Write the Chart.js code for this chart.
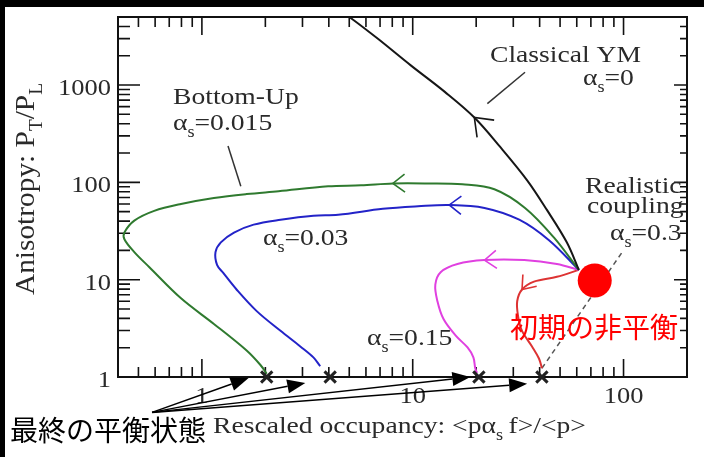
<!DOCTYPE html>
<html>
<head>
<meta charset="utf-8">
<script src="https://cdn.jsdelivr.net/npm/chart.js@4.4.1/dist/chart.umd.min.js"></script>
<style>
  html, body { margin: 0; padding: 0; background: #000; }
  canvas { display: block; }
</style>
</head>
<body>
<canvas id="c" width="704" height="457"></canvas>
<script>
// Trajectories in the (rescaled occupancy, anisotropy) plane.
// Every run starts from the same non-equilibrium initial state.
const classicalYM = [
  {x: 61.4, y: 12.6}, {x: 53.8, y: 24.2}, {x: 43.3, y: 52.1}, {x: 34.9, y: 105},
  {x: 26.0, y: 231}, {x: 19.6, y: 464}, {x: 14.2, y: 850}, {x: 9.79, y: 1592},
  {x: 6.84, y: 2985}, {x: 5.10, y: 4860}, {x: 4.33, y: 6140}
];
const bottomUp015 = [
  {x: 61.4, y: 12.6}, {x: 46.7, y: 27.2}, {x: 34.1, y: 54.6}, {x: 24.4, y: 85},
  {x: 17.2, y: 95.5}, {x: 11.8, y: 97.5}, {x: 8.05, y: 97.5}, {x: 5.69, y: 93.3},
  {x: 3.97, y: 91.1}, {x: 2.31, y: 81.1}, {x: 1.63, y: 75.7}, {x: 1.14, y: 68.9},
  {x: 0.796, y: 59.9}, {x: 0.594, y: 50.9}, {x: 0.478, y: 40.4}, {x: 0.429, y: 30.5},
  {x: 0.429, y: 26.0}, {x: 0.478, y: 19.2}, {x: 0.562, y: 13.5}, {x: 0.796, y: 6.43},
  {x: 1.14, y: 3.51}, {x: 1.63, y: 1.87}, {x: 1.90, y: 1.32}, {x: 2.03, y: 1.08}
];
const coupling003 = [
  {x: 61.4, y: 12.6}, {x: 44.3, y: 25.4}, {x: 32.0, y: 41.3}, {x: 21.9, y: 54.6},
  {x: 14.9, y: 58.6}, {x: 10.6, y: 56.8}, {x: 7.22, y: 53.4}, {x: 4.43, y: 46.4},
  {x: 3.38, y: 45.4}, {x: 2.36, y: 41.3}, {x: 1.76, y: 36.8}, {x: 1.42, y: 30.5},
  {x: 1.23, y: 24.2}, {x: 1.16, y: 19.2}, {x: 1.18, y: 14.2}, {x: 1.26, y: 11.8},
  {x: 1.46, y: 7.93}, {x: 1.82, y: 4.75}, {x: 2.36, y: 2.98}, {x: 2.93, y: 2.06},
  {x: 3.38, y: 1.59}, {x: 3.64, y: 1.29}
];
const coupling015 = [
  {x: 61.4, y: 12.6}, {x: 48.3, y: 14.5}, {x: 33.8, y: 15.9}, {x: 21.9, y: 15.9},
  {x: 16.3, y: 14.5}, {x: 13.6, y: 12.0}, {x: 12.8, y: 8.9}, {x: 13.1, y: 6.0},
  {x: 14.0, y: 3.94}, {x: 16.0, y: 2.66}, {x: 18.2, y: 2.01}, {x: 19.4, y: 1.59},
  {x: 19.8, y: 1.23}, {x: 20.2, y: 1.1}
];
const coupling03 = [
  {x: 61.4, y: 12.6}, {x: 48.3, y: 10.7}, {x: 37.6, y: 9.55}, {x: 33.0, y: 7.93},
  {x: 31.3, y: 6.0}, {x: 31.6, y: 4.23}, {x: 33.0, y: 2.98}, {x: 36.8, y: 2.06},
  {x: 39.7, y: 1.55}, {x: 41.0, y: 1.23}
];
const initialState = [{x: 73, y: 9.8}];
const finalStates = [{x: 2.03, y: 1}, {x: 4.06, y: 1}, {x: 20.6, y: 1}, {x: 41, y: 1}];

// Leader lines from the curve labels
const bottomUpPointer = [{x: 1.33, y: 236}, {x: 1.53, y: 91}];
const classicalPointer = [{x: 34.1, y: 1353}, {x: 22.6, y: 643}];
const realisticPointer = [{x: 41, y: 1.23}, {x: 100, y: 20.1}];

// Arrows from the 最終の平衡状態 caption towards the end points
const finalCaptionOrigin = {x: 0.58, y: 0.433};
const finalCaptionTips = [{x: 1.666, y: 0.977}, {x: 3.094, y: 0.87}, {x: 18.77, y: 1.0}, {x: 34.9, y: 0.85}];

const xTickLabels = [1, 10, 100];
const yTickLabels = [1, 10, 100, 1000];

const SERIF = '"Liberation Serif", "Times New Roman", serif';
const CJK = '"Noto Sans CJK JP", sans-serif';

function curve(data, color, arrowAt) {
  return {
    data, borderColor: color, backgroundColor: color, showLine: true,
    pointRadius: 0, borderWidth: 2, tension: 0.35, arrowAt, order: 3
  };
}
function pointer(data, dash) {
  return {
    data, borderColor: dash ? '#555' : '#333', showLine: true, pointRadius: 0,
    borderWidth: 1.5, borderDash: dash ? [5, 4] : [], tension: 0, order: 5
  };
}

// Text with subscripts and a horizontal stretch; parts = [[text, isSub], ...]
function richWidth(ctx, parts, fs) {
  let w = 0;
  for (const [t, sub] of parts) {
    ctx.font = (sub ? fs * 0.66 : fs) + 'px ' + SERIF;
    w += ctx.measureText(t).width;
  }
  return w;
}
function drawRich(ctx, parts, x, y, fs, opt) {
  opt = opt || {};
  const sx = opt.sx || 1.15, sy = opt.sy || 1;
  ctx.save();
  ctx.translate(x, y);
  if (opt.rot) ctx.rotate(opt.rot);
  ctx.scale(sx, sy);
  ctx.fillStyle = opt.color || '#2a2a2a';
  ctx.textBaseline = 'alphabetic';
  ctx.textAlign = 'left';
  const w = richWidth(ctx, parts, fs);
  let cx = opt.align === 'center' ? -w / 2 : opt.align === 'right' ? -w : 0;
  for (const [t, sub] of parts) {
    const f = sub ? fs * 0.66 : fs;
    ctx.font = f + 'px ' + SERIF;
    ctx.fillText(t, cx, sub ? fs * 0.3 : 0);
    cx += ctx.measureText(t).width;
  }
  ctx.restore();
}

function logValues(min, max) {
  const out = [];
  for (let e = Math.floor(Math.log10(min)); e <= Math.ceil(Math.log10(max)); e++) {
    for (let m = 1; m <= 9; m++) {
      const v = m * Math.pow(10, e);
      if (v > min * 1.001 && v < max * 0.999) out.push({v, major: m === 1});
    }
  }
  return out;
}

function arrowHead(ctx, tip, from, len, hw) {
  const a = Math.atan2(tip.y - from.y, tip.x - from.x);
  const bx = tip.x - len * Math.cos(a), by = tip.y - len * Math.sin(a);
  ctx.beginPath();
  ctx.moveTo(from.x, from.y);
  ctx.lineTo(bx, by);
  ctx.stroke();
  ctx.beginPath();
  ctx.moveTo(tip.x, tip.y);
  ctx.lineTo(bx + hw * Math.sin(a), by - hw * Math.cos(a));
  ctx.lineTo(bx - hw * Math.sin(a), by + hw * Math.cos(a));
  ctx.closePath();
  ctx.fill();
}

const figurePlugin = {
  id: 'figure',
  beforeDraw(chart) {
    const ctx = chart.ctx;
    ctx.save();
    ctx.fillStyle = '#fff';
    ctx.fillRect(0, 0, chart.width, chart.height);
    ctx.fillStyle = '#000';
    ctx.fillRect(0, 0, chart.width, 7);
    ctx.fillRect(0, 0, 5, chart.height);
    ctx.restore();
  },
  beforeDatasetsDraw(chart) {
    const {ctx, chartArea: a, scales: {x, y}} = chart;
    ctx.save();
    ctx.strokeStyle = '#111';
    ctx.lineWidth = 1.6;
    ctx.beginPath();
    for (const t of logValues(x.min, x.max)) {
      const px = x.getPixelForValue(t.v);
      const L = t.major ? 18 : 10;
      ctx.moveTo(px, a.bottom); ctx.lineTo(px, a.bottom - L);
      ctx.moveTo(px, a.top); ctx.lineTo(px, a.top + L);
    }
    for (const t of logValues(y.min, y.max)) {
      const py = y.getPixelForValue(t.v);
      ctx.moveTo(a.left, py); ctx.lineTo(a.left + (t.major ? 22 : 12), py);
      ctx.moveTo(a.right, py); ctx.lineTo(a.right - (t.major ? 13 : 7), py);
    }
    ctx.stroke();
    ctx.lineWidth = 2;
    ctx.strokeRect(a.left, a.top, a.right - a.left, a.bottom - a.top);
    ctx.restore();
  },
  afterDatasetsDraw(chart) {
    const ctx = chart.ctx;
    // direction arrows sitting on the trajectories
    chart.data.datasets.forEach((ds, i) => {
      if (ds.arrowAt === undefined) return;
      const pts = chart.getDatasetMeta(i).data;
      const p = pts[ds.arrowAt], prev = pts[ds.arrowAt - 1], next = pts[ds.arrowAt + 1];
      const a = Math.atan2(next.y - prev.y, next.x - prev.x) + Math.PI;
      const L = ds.arrowLen || 15, h = 0.65;
      ctx.save();
      ctx.strokeStyle = ds.borderColor;
      ctx.lineWidth = 1.6;
      ctx.beginPath();
      ctx.moveTo(p.x + L * Math.cos(a + h), p.y + L * Math.sin(a + h));
      ctx.lineTo(p.x, p.y);
      ctx.lineTo(p.x + L * Math.cos(a - h), p.y + L * Math.sin(a - h));
      ctx.stroke();
      ctx.restore();
    });
  },
  afterDraw(chart) {
    const {ctx, chartArea: a, scales: {x, y}} = chart;
    const fs = 24;
    // tick labels
    for (const v of xTickLabels) {
      drawRich(ctx, [[String(v)]], x.getPixelForValue(v), a.bottom + 26, 23, {align: 'center'});
    }
    for (const v of yTickLabels) {
      drawRich(ctx, [[String(v)]], a.left - 7, y.getPixelForValue(v) + 10, 23, {align: 'right'});
    }
    // axis titles
    drawRich(ctx, [['Rescaled occupancy: <p\u03b1'], ['s', true], ['\u2009f>/<p>']], 213, 433, fs);
    ctx.font = fs + 'px ' + SERIF;
    const yParts = [['Anisotropy: P'], ['T', true], ['/P'], ['L', true]];
    const yw = richWidth(ctx, yParts, fs);
    drawRich(ctx, yParts, 34, 189, fs, {rot: -Math.PI / 2, align: 'center', sx: 212 / yw, sy: 1.15});
    // curve labels
    const sub = (v) => [['\u03b1'], ['s', true], ['=' + v]];
    drawRich(ctx, [['Bottom-Up']], 173, 104, fs);
    drawRich(ctx, sub('0.015'), 173, 130, fs);
    drawRich(ctx, [['Classical YM']], 490, 62, fs);
    drawRich(ctx, sub('0'), 583, 85, fs);
    drawRich(ctx, [['Realistic']], 585, 193, fs);
    drawRich(ctx, [['coupling']], 587, 213, fs);
    drawRich(ctx, sub('0.3'), 610, 240, fs);
    drawRich(ctx, sub('0.03'), 263, 245, fs);
    drawRich(ctx, sub('0.15'), 367, 345, fs);
    // Japanese captions
    ctx.save();
    ctx.font = '28px ' + CJK;
    ctx.textBaseline = 'middle';
    ctx.textAlign = 'left';
    ctx.fillStyle = '#ff0000';
    ctx.fillText('初期の非平衡', 510, 327);
    ctx.fillStyle = '#000';
    ctx.fillText('最終の平衡状態', 10, 430);
    // caption arrows
    ctx.strokeStyle = '#000';
    ctx.lineWidth = 1.5;
    const o = {x: x.getPixelForValue(finalCaptionOrigin.x), y: y.getPixelForValue(finalCaptionOrigin.y)};
    for (const t of finalCaptionTips) {
      arrowHead(ctx, {x: x.getPixelForValue(t.x), y: y.getPixelForValue(t.y)}, o, 18, 7);
    }
    ctx.restore();
  }
};

const black = curve(classicalYM, '#161616', 5); black.arrowLen = 20;
new Chart(document.getElementById('c'), {
  type: 'scatter',
  data: {
    datasets: [
      {data: initialState, pointRadius: 17, pointHoverRadius: 17, backgroundColor: '#ff0000',
       borderColor: '#ff0000', borderWidth: 0, order: 0, clip: false},
      {data: finalStates, pointStyle: 'crossRot', pointRadius: 8, borderColor: '#222',
       borderWidth: 3, order: 1, clip: false},
      black,
      curve(bottomUp015, '#2f7a2f', 6),
      curve(coupling003, '#2323c8', 4),
      curve(coupling015, '#e040e0', 3),
      curve(coupling03, '#dd3333', 3),
      pointer(bottomUpPointer, false),
      pointer(classicalPointer, false),
      pointer(realisticPointer, true)
    ]
  },
  options: {
    responsive: false,
    animation: false,
    events: [],
    layout: {padding: {left: 118, right: 12, top: 12, bottom: 80}},
    plugins: {legend: {display: false}, tooltip: {enabled: false}},
    scales: {
      x: {type: 'logarithmic', min: 0.4, max: 200, display: false},
      y: {type: 'logarithmic', min: 1, max: 5000, display: false}
    }
  },
  plugins: [figurePlugin]
});
</script>
</body>
</html>
